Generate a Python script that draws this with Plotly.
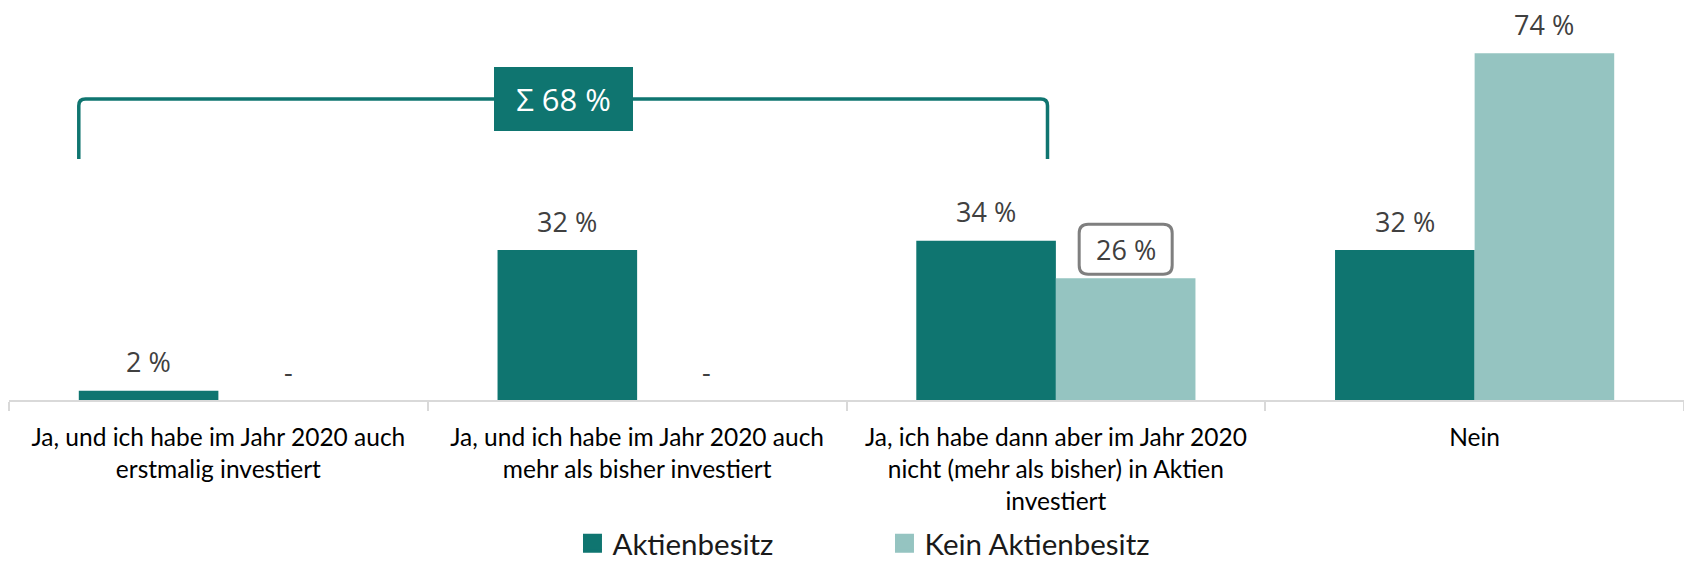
import plotly.graph_objects as go

categories = [
    "Ja, und ich habe im Jahr 2020 auch<br>erstmalig investiert",
    "Ja, und ich habe im Jahr 2020 auch<br>mehr als bisher investiert",
    "Ja, ich habe dann aber im Jahr 2020<br>nicht (mehr als bisher) in Aktien<br>investiert",
    "Nein",
]
series_names = ["Aktienbesitz", "Kein Aktienbesitz"]
aktienbesitz = [2, 32, 34, 32]
kein_aktienbesitz = [None, None, 26, 74]
sum_label = "Σ 68 %"
highlight = (2, 1)  # (category index, series index) of the boxed label

DARK = "#0F7570"
LIGHT = "#95C4C1"
colors = [DARK, LIGHT]
series = [aktienbesitz, kein_aktienbesitz]

fig = go.Figure()
for name, vals, col in zip(series_names, series, colors):
    fig.add_trace(go.Bar(
        x=categories, y=[v if v is not None else 0 for v in vals], name=name,
        marker=dict(color=col, line=dict(width=0)), showlegend=False,
        hoverinfo="skip",
    ))
# legend proxies (bigger squares)
for name, col in zip(series_names, colors):
    fig.add_trace(go.Scatter(
        x=[None], y=[None], mode="markers", name=name,
        marker=dict(symbol="square", size=16, color=col, line=dict(color=col, width=3)),
    ))

BARGAP = 1 / 3
half_w = (1 - BARGAP) / 2  # width of one bar in category units
offsets = [-half_w / 2, half_w / 2]

annotations = []
for si, vals in enumerate(series):
    for ci, v in enumerate(vals):
        annotations.append(dict(
            x=ci + offsets[si], y=(v or 0), xref="x", yref="y",
            text=(f"{v} %" if v is not None else "-"),
            showarrow=False, yanchor="middle", yshift=29,
            font=dict(family="Open Sans", size=27, color="#404040"),
        ))

# bracket over the first three categories
x_left = 0 - half_w
x_right = 2 - 0.02
y_bot, y_top = 51.4, 64.2
rx, ry = 0.016, 1.4
bracket = (f"M {x_left},{y_bot} L {x_left},{y_top - ry} Q {x_left},{y_top} {x_left + rx},{y_top} "
           f"L {x_right - rx},{y_top} Q {x_right},{y_top} {x_right},{y_top - ry} L {x_right},{y_bot}")
shapes = [dict(type="path", path=bracket, xref="x", yref="y",
               line=dict(color=DARK, width=3.5), layer="above")]

annotations.append(dict(
    x=(x_left + x_right) / 2, y=y_top, xref="x", yref="y", text=sum_label,
    showarrow=False, bgcolor=DARK, bordercolor=DARK, borderwidth=0, borderpad=0,
    width=139, height=64, align="center", valign="middle",
    font=dict(family="Open Sans", size=31, color="white"),
))

# rounded box around the highlighted label
hc, hs = highlight
cx = 69.8 if hs == 1 else -69.8
xa, xb = cx - 46.5, cx + 46.5
ya, yb = 4, 54
r = 9
rpath = (f"M {xa + r},{ya} L {xb - r},{ya} Q {xb},{ya} {xb},{ya + r} L {xb},{yb - r} "
         f"Q {xb},{yb} {xb - r},{yb} L {xa + r},{yb} Q {xa},{yb} {xa},{yb - r} "
         f"L {xa},{ya + r} Q {xa},{ya} {xa + r},{ya} Z")
shapes.append(dict(type="path", path=rpath, xref="x", yref="y",
                   xsizemode="pixel", ysizemode="pixel",
                   xanchor=hc, yanchor=series[hs][hc],
                   line=dict(color="#7F7F7F", width=3), fillcolor="white", layer="above"))

fig.update_layout(
    width=1684, height=562,
    margin=dict(l=9, r=0, t=25, b=162, autoexpand=False),
    paper_bgcolor="white", plot_bgcolor="white",
    barmode="group", bargap=BARGAP, bargroupgap=0,
    showlegend=True,
    legend=dict(orientation="h", x=0.3364, xanchor="left", y=0.033, yanchor="middle",
                yref="container", bgcolor="rgba(0,0,0,0)",
                font=dict(family="Lato", size=29.5, color="#1a1a1a"),
                entrywidth=267, entrywidthmode="pixels", itemclick=False),
    xaxis=dict(type="category", range=[-0.5, 3.5], tickson="boundaries", automargin=False,
               ticks="outside", ticklen=9, tickcolor="#D9D9D9", tickwidth=1.5,
               showline=True, linecolor="#D9D9D9", linewidth=2,
               tickfont=dict(family="Lato", size=24.5, color="#000000"),
               ticklabelstandoff=15, showgrid=False, zeroline=False),
    yaxis=dict(range=[0, 80], visible=False, showgrid=False, zeroline=False, automargin=False),
    annotations=annotations, shapes=shapes,
)

fig.write_html(
    "out.html",
    config={"displayModeBar": False},
    post_script="document.body.style.margin='0';document.body.style.overflow='hidden';",
)
